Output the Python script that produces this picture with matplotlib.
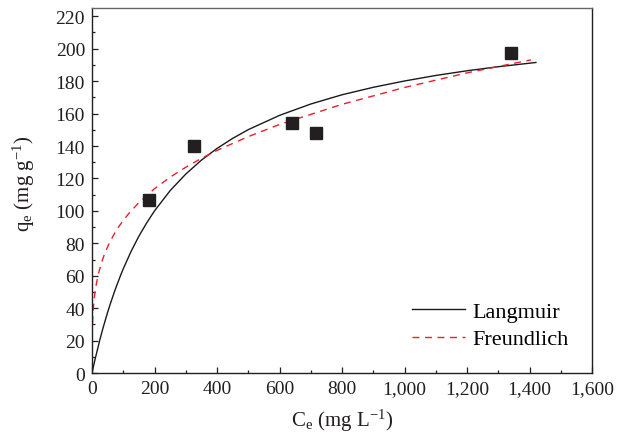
import numpy as np
import matplotlib.pyplot as plt
from matplotlib.ticker import FuncFormatter, MultipleLocator

ce_points = [183, 327, 639, 716, 1341]
qe_points = [106.8, 140.3, 153.9, 148.3, 197.6]

# fitted curves, values
langmuir_c = [0, 5, 10, 25, 35, 50, 60, 75, 90, 100, 125, 150, 175, 200,
              250, 300, 350, 400, 450, 500, 600, 700, 800, 900, 1000, 1100,
              1200, 1300, 1420]
langmuir_q = [0, 4.4, 8.6, 20.4, 27.6, 37.5, 43.5, 51.9, 59.5, 64.3, 75.0,
              84.4, 92.6, 100.0, 112.5, 122.7, 131.3, 138.5, 144.7, 150.1,
              158.9, 165.9, 171.6, 176.2, 180.1, 183.5, 186.4, 188.9, 191.5]

freundlich_c = [0, 0.02, 0.1, 0.5, 1, 2, 3, 5, 7, 10, 14, 20, 30, 40, 55,
                70, 85, 100, 120, 150, 200, 250, 300, 350, 400, 500, 600,
                800, 1000, 1200, 1404]
freundlich_q = [0, 9.3, 14.4, 22.3, 26.9, 32.5, 36.3, 41.7, 45.7, 50.3,
                55.1, 60.8, 67.8, 73.4, 80.0, 85.4, 90.1, 94.1, 98.9, 105.1,
                113.7, 120.8, 126.9, 132.4, 137.3, 145.8, 153.3, 165.7,
                176.1, 185.1, 193.1]

plt.rcParams['font.family'] = 'Liberation Serif'
plt.rcParams['mathtext.fontset'] = 'custom'
plt.rcParams['mathtext.rm'] = 'Liberation Serif'
plt.rcParams['mathtext.it'] = 'Liberation Serif:italic'
plt.rcParams['font.size'] = 14

ink = '#231f20'

fig = plt.figure(figsize=(6.3, 4.35), dpi=100)
ax = fig.add_axes([0.146, 0.140, 0.794, 0.839])

ax.plot(langmuir_c, langmuir_q, color='#1a1a1a', lw=1.0, label='Langmuir')
ax.plot(freundlich_c, freundlich_q, color='#e8202a', lw=1.0,
        dashes=(5, 4), label='Freundlich')
ax.plot(ce_points, qe_points, 's', color=ink, markersize=8,
        linestyle='none')

ax.set_xlim(0, 1600)
ax.set_ylim(0, 225)
ax.xaxis.set_major_locator(MultipleLocator(200))
ax.xaxis.set_minor_locator(MultipleLocator(100))
ax.yaxis.set_major_locator(MultipleLocator(20))
ax.yaxis.set_minor_locator(MultipleLocator(10))
ax.xaxis.set_major_formatter(FuncFormatter(lambda v, p: f'{v:,.0f}'))
ax.tick_params(which='both', direction='in', top=False, right=False,
               colors=ink, labelcolor=ink, labelsize=14)
ax.tick_params(which='major', length=4.5, width=0.9)
ax.tick_params(which='minor', length=2.5, width=0.9)
ax.tick_params(axis='x', pad=5)
ax.tick_params(axis='y', pad=5)

for side in ['left', 'bottom', 'right']:
    ax.spines[side].set_color(ink)
    ax.spines[side].set_linewidth(1.0)
ax.spines['top'].set_color('#666666')
ax.spines['top'].set_linewidth(1.0)

ax.set_xlabel(r'C$_\mathregular{e}$ (mg L$^{\mathregular{-1}}$)', color=ink,
              fontsize=15, labelpad=7)
ax.set_ylabel(r'q$_\mathregular{e}$ (mg g$^{\mathregular{-1}}$)', color=ink,
              fontsize=15)
ax.yaxis.set_label_coords(-0.11, 0.52)

ax.legend(loc='lower right', bbox_to_anchor=(0.992, 0.01), frameon=False,
          fontsize=16, handlelength=2.4, handletextpad=0.3,
          labelspacing=0.3)

fig.savefig('out.png', dpi=100)
